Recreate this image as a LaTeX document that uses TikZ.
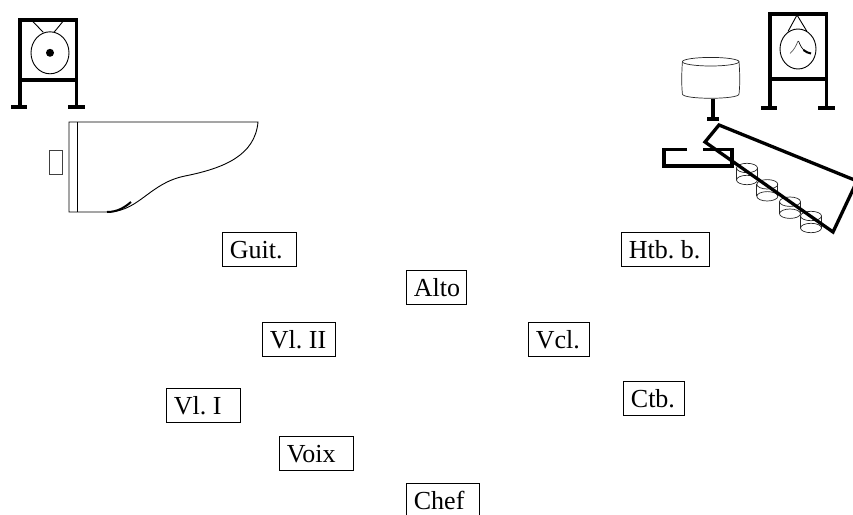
\documentclass[tikz,border=0pt]{standalone}
\usepackage{fontspec}
\setmainfont{Liberation Serif}
\newcommand{\lbltext}[2]{\makebox[#1][l]{#2}}
\frenchspacing
\begin{document}
\begin{tikzpicture}[x=1pt,y=-1pt,
  thinline/.style={line width=0.9pt},
  fineline/.style={line width=0.7pt, black!85},
  frameline/.style={line width=3.2pt},
  footline/.style={line width=4pt},
  heavyline/.style={line width=3.3pt},
  lbl/.style={draw, line width=0.8pt, font=\fontsize{26}{30}\selectfont\frenchspacing,
    inner xsep=7.5pt, inner ysep=0pt, text height=18pt, text depth=0pt,
    minimum height=34pt, anchor=north west}]
\useasboundingbox (0,0) rectangle (853,514);

% ---- left gong
\draw[frameline] (20,107) -- (20,20) -- (76.5,20) -- (76.5,107);
\draw[frameline] (20,80) -- (76.5,80);
\draw[footline] (11,107) -- (27,107) (68,107) -- (85,107);
\draw[thinline] (50,52.8) ellipse [x radius=19, y radius=21];
\fill (50,52.8) circle [radius=4];
\draw[thinline] (32.3,21) -- (43.3,32.3) (63.3,21) -- (54,32.3);

% ---- piano
\draw[thinline] (110,212) -- (69,212) -- (69,122) -- (258,122)
  .. controls (255,155) and (225,168) .. (185,176)
  .. controls (150,183) and (140,210) .. (110,212);
\draw[thinline] (77,122) -- (77,212);
\draw[line width=2pt] (107,212) .. controls (118,212) and (125,207) .. (131,202);
\draw[thinline, black!75] (49,150) rectangle (62,174);

% ---- right gong
\draw[frameline] (770,108) -- (770,14) -- (826.5,14) -- (826.5,108);
\draw[frameline] (770,79) -- (826.5,79);
\draw[footline] (761,108) -- (777,108) (818,108) -- (835,108);
\draw[thinline] (798,49) ellipse [x radius=18, y radius=20];
\draw[thinline] (788,31.5) -- (797,15) -- (807,31.5);
\draw[line width=0.7pt, black!65] (798,41) .. controls (796,46) and (794,50) .. (790,53.5);
\draw[line width=0.7pt] (798.5,41) .. controls (800,45) and (802,49) .. (805,51);
\draw[line width=2pt] (803.5,50) .. controls (806,52) and (808,53) .. (811,53.5);

% ---- drum
\draw[fineline] (710.7,61.7) ellipse [x radius=28.3, y radius=4.3];
\draw[fineline] (682.4,61.7) .. controls (681.5,75) and (681.5,85) .. (682.4,94)
  .. controls (682.4,99.7) and (739,99.7) .. (739,94)
  .. controls (740,85) and (740,75) .. (739,61.7);
\draw[line width=3.5pt] (713,99) -- (713,118);
\draw[footline] (707,119) -- (719,119);

% ---- bracket
\draw[heavyline] (687,149.5) -- (664,149.5) -- (664,166) -- (732,166) -- (732,149.5) -- (703,149.5);

% ---- bells
\foreach \cx/\cy in {747/168, 767.3/184.3, 790/201.7, 811/216} {
  \draw[fineline] (\cx,\cy) ellipse [x radius=10.5, y radius=4.7];
  \draw[fineline] (\cx,\cy+12) ellipse [x radius=10.5, y radius=4.7];
  \draw[fineline] (\cx-10.5,\cy) -- (\cx-10.5,\cy+12) (\cx+10.5,\cy) -- (\cx+10.5,\cy+12);
}

% ---- marimba frame
\draw[heavyline] (719,125) -- (857,181) -- (833,232) -- (705,142) -- cycle;

% ---- labels
\node[lbl] (guit) at (222,232) {\lbltext{59pt}{Guit.}};
\node[lbl] (alto) at (406,270) {\lbltext{45pt}{Alto}};
\node[lbl] (vlii) at (262,322) {\lbltext{58pt}{Vl. II}};
\node[lbl] (vli)  at (166,388) {\lbltext{59pt}{Vl. I}};
\node[lbl] (voix) at (279,436) {\lbltext{59pt}{Voix}};
\node[lbl] (chef) at (406,483) {\lbltext{58pt}{Chef}};
\node[lbl] (htb)  at (621,232) {\lbltext{73pt}{Htb. b.}};
\node[lbl] (vcl)  at (528,322) {\lbltext{46pt}{Vcl.}};
\node[lbl] (ctb)  at (623,381) {\lbltext{46pt}{Ctb.}};
\end{tikzpicture}
\end{document}
